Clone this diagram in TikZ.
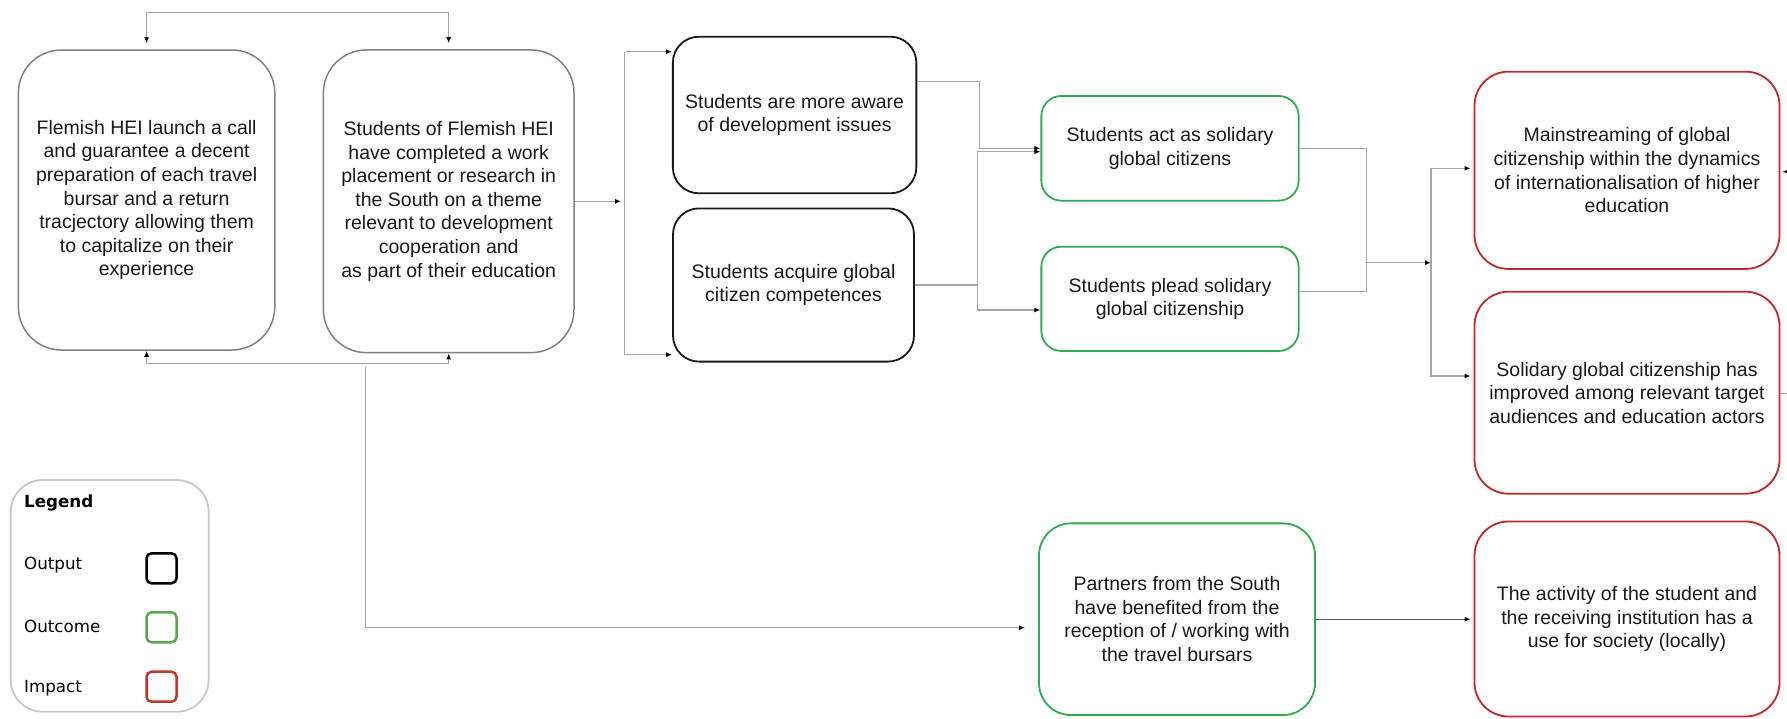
\documentclass[tikz,border=0pt]{standalone}
\usepackage{fontspec}
\setmainfont{Liberation Sans}
\newfontfamily\legendfont{DejaVu Sans}
\usetikzlibrary{calc}
\usetikzlibrary{arrows.meta}

\begin{document}
\begin{tikzpicture}[x=1pt,y=-1pt,
  stage/.style={draw,line width=1.8pt,align=center,inner sep=0pt,text=mycolor1A1A1A,font=\fontsize{19.5pt}{23.6pt}\selectfont},
  inputbox/.style={stage,draw=mycolor808080,line width=1.5pt},
  outputbox/.style={stage,draw=mycolor1A1A1A},
  outcomebox/.style={stage,draw=mycolor33A853},
  impactbox/.style={stage,draw=mycolorC0282D},
  line/.style={draw=mycolorA6A6A6,line width=1.3pt},
  link/.style={line,-{Latex[length=6pt,width=5pt,color=black]}},
  key/.style={anchor=west,inner sep=0pt,text=black,font=\legendfont\fontsize{16.7pt}{20pt}\selectfont},
  swatch/.style={draw=#1,line width=2.5pt,rounded corners=5pt,minimum width=30pt,minimum height=30pt,inner sep=0pt}]
\definecolor{mycolor1A1A1A}{rgb}{0.1,0.1,0.1}
\definecolor{mycolor808080}{rgb}{0.5,0.5,0.5}
\definecolor{mycolor33A853}{rgb}{0.2,0.66,0.33}
\definecolor{mycolorC0282D}{rgb}{0.75,0.16,0.18}
\definecolor{mycolorA6A6A6}{rgb}{0.65,0.65,0.65}
\definecolor{mycolor595959}{rgb}{0.35,0.35,0.35}
\definecolor{mycolorC8C8C8}{rgb}{0.78,0.78,0.78}
\definecolor{mycolor5AA64E}{rgb}{0.35,0.65,0.31}
\definecolor{mycolorC0392B}{rgb}{0.75,0.22,0.17}
\useasboundingbox (0,0) rectangle (1787,718);
\begin{scope}
% inputs
\node[inputbox,rounded corners=43pt,minimum width=256.4pt,minimum height=300pt] (launch) at (146.6,200) {Flemish HEI launch a call\\and guarantee a decent\\preparation of each travel\\bursar and a return\\tracjectory allowing them\\to capitalize on their\\experience};
\node[inputbox,rounded corners=43pt,minimum width=250.6pt,minimum height=302.7pt] (placement) at (448.7,201.3) {Students of Flemish HEI\\have completed a work\\placement or research in\\the South on a theme\\relevant to development\\cooperation and\\as part of their education};
\end{scope}
\begin{scope}
% outputs
\node[outputbox,rounded corners=26pt,minimum width=243.5pt,minimum height=156.6pt] (aware) at (794.6,115) {Students are more aware\\of development issues};
\node[outputbox,rounded corners=26pt,minimum width=241pt,minimum height=153.2pt] (competence) at (793.5,285) {Students acquire global\\citizen competences};
\end{scope}
\begin{scope}
% outcomes
\node[outcomebox,rounded corners=20pt,minimum width=257.3pt,minimum height=104.7pt] (act) at (1170,148.3) {Students act as solidary\\global citizens};
\node[outcomebox,rounded corners=20pt,minimum width=257.3pt,minimum height=104.3pt] (plead) at (1170,298.8) {Students plead solidary\\global citizenship};
\node[outcomebox,rounded corners=32pt,minimum width=276pt,minimum height=191.7pt] (partners) at (1177,619.2) {Partners from the South\\have benefited from the\\reception of / working with\\the travel bursars};
\end{scope}
\begin{scope}
% impacts
\node[impactbox,rounded corners=34pt,minimum width=305pt,minimum height=197.3pt] (mainstream) at (1627,170.3) {Mainstreaming of global\\citizenship within the dynamics\\of internationalisation of higher\\education};
\node[impactbox,rounded corners=34pt,minimum width=305pt,minimum height=202pt] (improved) at (1627,392.7) {Solidary global citizenship has\\improved among relevant target\\audiences and education actors};
\node[impactbox,rounded corners=34pt,minimum width=305pt,minimum height=195pt] (society) at (1627,619) {The activity of the student and\\the receiving institution has a\\use for society (locally)};
\end{scope}
\begin{scope}
% feedback loops round the inputs
\coordinate (topbar) at (297.6,12.7);
\coordinate (botbar) at (297.6,363.3);
\draw[link,shorten >=6pt] (topbar) -| (launch.north);
\draw[link,shorten >=6pt] (topbar) -| (placement.north);
\draw[link] (botbar) -| (launch.south);
\draw[link] (botbar) -| (placement.south);
\coordinate (southfeed) at (365.5,366.7);
\draw[link,shorten >=13pt] (southfeed) |- ($(partners.west)+(0,8.5)$);
\end{scope}
\begin{scope}
\coordinate (fan) at (621,201.3);
\coordinate (fantop) at (624.6,51.7);
\coordinate (fanbot) at (624.6,354.6);
\draw[link] (placement.east) -- (fan);
\draw[line] (fantop) -- (fanbot);
\draw[link] (fantop) -- (fantop -| aware.west);
\draw[link] (fanbot) -- (fanbot -| competence.west);
\coordinate (awareout) at ($(aware.east)+(0,-33.3)$);
\draw[link] (awareout) -- ++(62,0) |- (act.west);
\draw[link] (competence.east) -- ++(62.5,0) |- ($(act.west)+(0,3.4)$);
\draw[link] (competence.east) -- ++(62.5,0) |- ($(plead.west)+(0,11.2)$);
\end{scope}
\begin{scope}
\coordinate (merge) at (1366.8,262.7);
\coordinate (fork) at (1431,262.7);
\draw[line] (act.east) -| (merge);
\draw[line] ($(plead.east)+(0,-7)$) -| (merge);
\draw[link] (merge) -- (fork);
\draw[link,shorten >=3pt] (fork) |- ($(mainstream.west)+(0,-2)$);
\draw[link,shorten >=3pt] (fork) |- ($(improved.west)+(0,-16.7)$);
\coordinate (rightin) at (1787,171.7);
\coordinate (rightout) at (1787,393.3);
\draw[link,shorten >=2pt] (rightin) -- (rightin -| mainstream.east);
\draw[line] (rightout -| improved.east) -- (rightout);
\draw[link,draw=mycolor595959,shorten >=3pt] (partners.east) -- (partners.east -| society.west);
\end{scope}
\begin{scope}
% legend
\node[draw=mycolorC8C8C8,line width=1.8pt,rounded corners=32pt,minimum width=198pt,minimum height=231.7pt] (legend) at (109.7,595.9) {};
\node[key] (legendtitle) at (24,502.7) {\bfseries Legend};
\node[key] (outputkey) at (24,565) {Output};
\node[key] (outcomekey) at (24,626.7) {Outcome};
\node[key] (impactkey) at (24,688.3) {Impact};
\node[swatch=black] (outputswatch) at (161.5,568.3) {};
\node[swatch=mycolor5AA64E] (outcomeswatch) at (161.5,627.3) {};
\node[swatch=mycolorC0392B] (impactswatch) at (161.5,686.7) {};
\end{scope}
\end{tikzpicture}
\end{document}
